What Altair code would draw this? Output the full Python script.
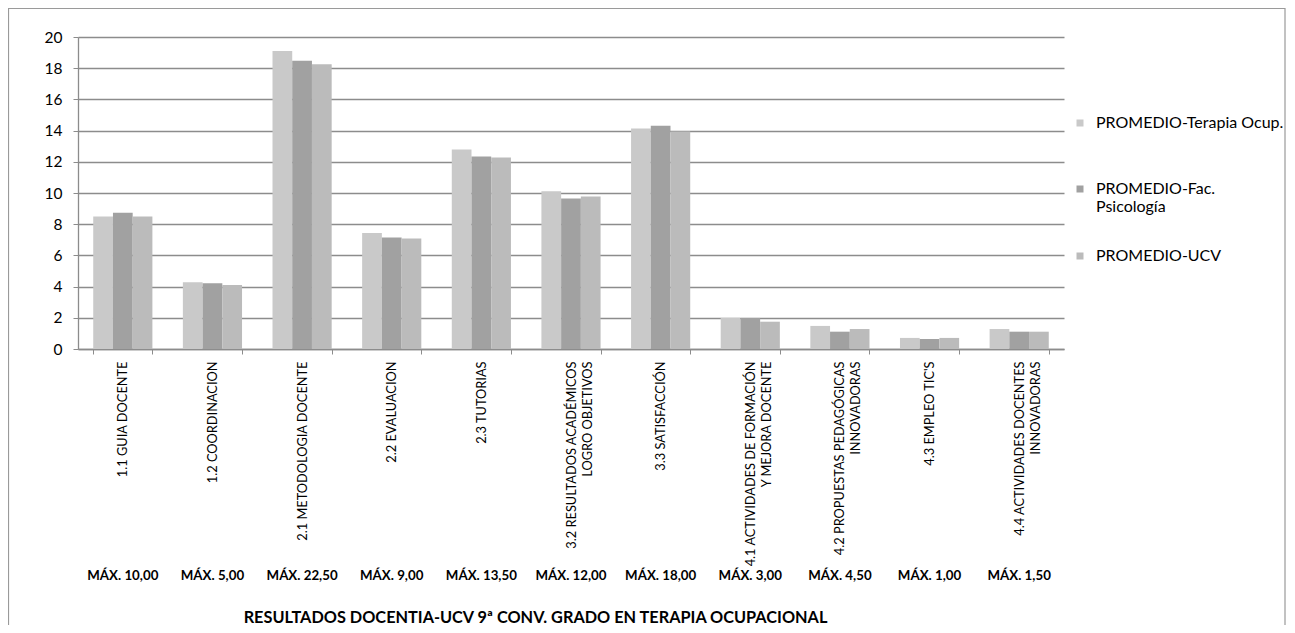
import json
import altair as alt
import pandas as pd

categories = [
    "1.1 GUIA DOCENTE",
    "1.2 COORDINACION",
    "2.1 METODOLOGIA DOCENTE",
    "2.2 EVALUACION",
    "2.3 TUTORIAS",
    "3.2 RESULTADOS ACADÉMICOS\nLOGRO OBJETIVOS",
    "3.3 SATISFACCIÓN",
    "4.1 ACTIVIDADES DE FORMACIÓN\nY MEJORA DOCENTE",
    "4.2 PROPUESTAS PEDAGÓGICAS\nINNOVADORAS",
    "4.3 EMPLEO TIC'S",
    "4.4 ACTIVIDADES DOCENTES\nINNOVADORAS",
]
max_labels = [
    "MÁX. 10,00", "MÁX. 5,00", "MÁX. 22,50", "MÁX. 9,00", "MÁX. 13,50",
    "MÁX. 12,00", "MÁX. 18,00", "MÁX. 3,00", "MÁX. 4,50", "MÁX. 1,00", "MÁX. 1,50",
]
series = ["PROMEDIO-Terapia Ocup.", "PROMEDIO-Fac. Psicología", "PROMEDIO-UCV"]
terapia = [8.49, 4.28, 19.10, 7.44, 12.79, 10.12, 14.14, 1.99, 1.48, 0.71, 1.28]
psicologia = [8.73, 4.21, 18.48, 7.14, 12.34, 9.65, 14.31, 1.99, 1.11, 0.64, 1.11]
ucv = [8.49, 4.11, 18.25, 7.08, 12.28, 9.78, 13.95, 1.75, 1.28, 0.71, 1.11]
colors = ["#c9c9c9", "#a1a1a1", "#bbbbbb"]
y_ticks = [0, 2, 4, 6, 8, 10, 12, 14, 16, 18, 20]
title_text = "RESULTADOS DOCENTIA-UCV 9ª CONV. GRADO EN TERAPIA OCUPACIONAL"

rows = []
for s, vals in zip(series, [terapia, psicologia, ucv]):
    for c, v in zip(categories, vals):
        rows.append({"category": c, "series": s, "value": v})
df = pd.DataFrame(rows)

FONT = "Lato"
GRID = "#8c8c8c"
W, H = 986, 312

x_scale = alt.Scale(paddingInner=0.34, paddingOuter=0.17)

bars = alt.Chart(df).mark_bar().encode(
    x=alt.X(
        "category:N",
        sort=categories,
        scale=x_scale,
        axis=alt.Axis(
            title=None,
            labelAngle=-90,
            labelAlign="right",
            labelBaseline="middle",
            labelPadding=7,
            labelFontSize=12.8,
            labelLineHeight=16,
            labelFont=FONT,
            labelColor="#000000",
            labelLimit=400,
            labelExpr="(datum.extra || !isValid(datum.value)) ? '' : split(datum.value, '\\n')",
            tickBand="extent",
            tickSize=5,
            tickColor=GRID,
            domainColor=GRID,
            domainWidth=1.3,
        ),
    ),
    xOffset=alt.XOffset("series:N", sort=series),
    y=alt.Y(
        "value:Q",
        scale=alt.Scale(domain=[0, 20], nice=False),
        axis=alt.Axis(
            title=None,
            values=y_ticks,
            grid=True,
            gridColor=GRID,
            gridWidth=1.3,
            domainColor=GRID,
            domainWidth=1.3,
            tickColor=GRID,
            tickSize=5,
            labelFontSize=15.5,
            labelFont=FONT,
            labelColor="#000000",
            labelPadding=11,
        ),
    ),
    color=alt.Color(
        "series:N",
        sort=series,
        scale=alt.Scale(domain=series, range=colors),
        legend=alt.Legend(
            title=None,
            orient="none",
            legendX=994,
            legendY=61,
            padding=0,
            symbolType="square",
            symbolSize=49,
            symbolStrokeWidth=0,
            labelFontSize=16,
            labelFont=FONT,
            labelColor="#000000",
            labelOffset=8,
            clipHeight=50,
            rowPadding=16,
            labelLimit=300,
            labelExpr="datum.label == 'PROMEDIO-Fac. Psicología' ? ['PROMEDIO-Fac.', 'Psicología'] : datum.label",
        ),
    ),
)

max_expr = (
    json.dumps(max_labels, ensure_ascii=False)
    + "[indexof("
    + json.dumps(categories, ensure_ascii=False)
    + ", datum.value)]"
)

max_axis = alt.Chart(df).mark_point(opacity=0).encode(
    x=alt.X(
        "category:N",
        sort=categories,
        scale=x_scale,
        axis=alt.Axis(
            orient="bottom",
            title=title_text,
            titleFont=FONT,
            titleFontSize=16.3,
            titleFontWeight="bold",
            titleColor="#000000",
            titleX=457,
            titleY=268,
            titleAlign="center",
            titleBaseline="middle",
            labelAngle=0,
            labelAlign="center",
            labelBaseline="middle",
            labelPadding=226,
            labelFontSize=13.3,
            labelFontWeight="bold",
            labelFont=FONT,
            labelColor="#000000",
            labelExpr=max_expr,
            ticks=False,
            domain=False,
            grid=False,
        ),
    ),
)

frame = alt.Chart(alt.Data(values=[{}])).mark_rect(
    fill="transparent", stroke="#9a9a9a", strokeWidth=1.2
).encode(
    x=alt.value(-69.5), x2=alt.value(1207), y=alt.value(-28.5), y2=alt.value(640)
)

chart = (
    alt.layer(frame, bars, max_axis)
    .resolve_axis(x="independent")
    .properties(
        width=W,
        height=H,
        padding={"left": 70, "top": 29, "right": 223, "bottom": 276},
        autosize=alt.AutoSizeParams(type="none"),
        background="#ffffff",
    )
    .configure_view(strokeWidth=0)
)

chart.save("out.html", embed_options={"renderer": "svg", "actions": False})
